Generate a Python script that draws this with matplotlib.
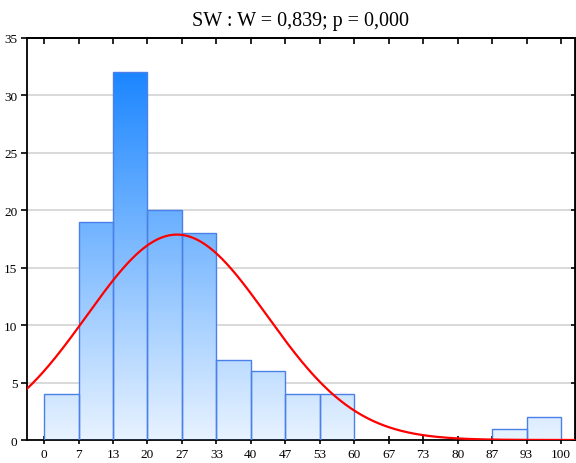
import numpy as np
import matplotlib
matplotlib.use("Agg")
import matplotlib.pyplot as plt
from matplotlib.colors import LinearSegmentedColormap
from matplotlib.patches import Rectangle

plt.rcParams['font.family'] = ['Liberation Serif', 'DejaVu Serif']

bin_edges = [0, 6.667, 13.333, 20, 26.667, 33.333, 40, 46.667, 53.333, 60,
             66.667, 73.333, 80, 86.667, 93.333, 100]
counts = [4, 19, 32, 20, 18, 7, 6, 4, 4, 0, 0, 0, 0, 1, 2]
tick_vals = [0, 6.667, 13.333, 20, 26.667, 33.333, 40, 46.667, 53.333, 60,
             66.667, 73.333, 80, 86.667, 93.333, 100]
tick_labels = ['0', '7', '13', '20', '27', '33', '40', '47', '53', '60',
               '67', '73', '80', '87', '93', '100']
fit_mean = 25.7
fit_sd = 17.4
title = "SW : W = 0,839; p = 0,000"

fig = plt.figure(figsize=(5.76, 4.64), dpi=100)
ax = fig.add_axes([27/576, 1-441/464, 548/576, (441-39)/464])

xmin, xmax = -3.3, 102.7
ax.set_xlim(xmin, xmax)
ax.set_ylim(0, 35)

for y in range(5, 35, 5):
    ax.axhline(y, color='#d9d9d9', lw=1.4, zorder=0)

cmap = LinearSegmentedColormap.from_list('g', ['#e8f3ff', '#1c86ff'])
grad = np.linspace(0, 1, 256).reshape(-1, 1)
ymax_bar = max(counts)
for i, c in enumerate(counts):
    if c <= 0:
        continue
    x0, x1 = bin_edges[i], bin_edges[i+1]
    rect = Rectangle((x0, 0), x1 - x0, c, facecolor='none',
                     edgecolor='#4a80e8', lw=1.0, zorder=3)
    ax.add_patch(rect)
    im = ax.imshow(grad, extent=[x0, x1, 0, ymax_bar], origin='lower',
                   cmap=cmap, aspect='auto', zorder=2, interpolation='bilinear')
    im.set_clip_path(rect)

ax.set_xlim(xmin, xmax)
ax.set_ylim(0, 35)

N = sum(counts)
bw = bin_edges[1] - bin_edges[0]
xs = np.linspace(xmin, xmax, 400)
ys = N * bw / (fit_sd * np.sqrt(2*np.pi)) * np.exp(-0.5*((xs-fit_mean)/fit_sd)**2)
ax.plot(xs, ys, color='#ff0000', lw=1.6, zorder=4)

ax.set_xticks(tick_vals)
ax.set_xticklabels(tick_labels)
ax.set_yticks(range(0, 36, 5))
ax.tick_params(axis='x', direction='inout', length=6, width=1.2, labelsize=9.5, pad=3)
ax.tick_params(axis='y', direction='out', length=4, width=1.2, labelsize=9.5, pad=3)

top = ax.secondary_xaxis('top')
top.set_xticks(tick_vals)
top.tick_params(direction='in', length=4, width=1.2, labelsize=0, labeltop=False)
top.spines['top'].set_linewidth(1.3)
right = ax.secondary_yaxis('right')
right.set_yticks(range(0, 36, 5))
right.tick_params(direction='in', length=3, width=1.2, labelright=False)

for s in ax.spines.values():
    s.set_linewidth(1.3)

ax.set_title(title, fontsize=14.5, pad=9)
fig.savefig('out.png', dpi=100)
